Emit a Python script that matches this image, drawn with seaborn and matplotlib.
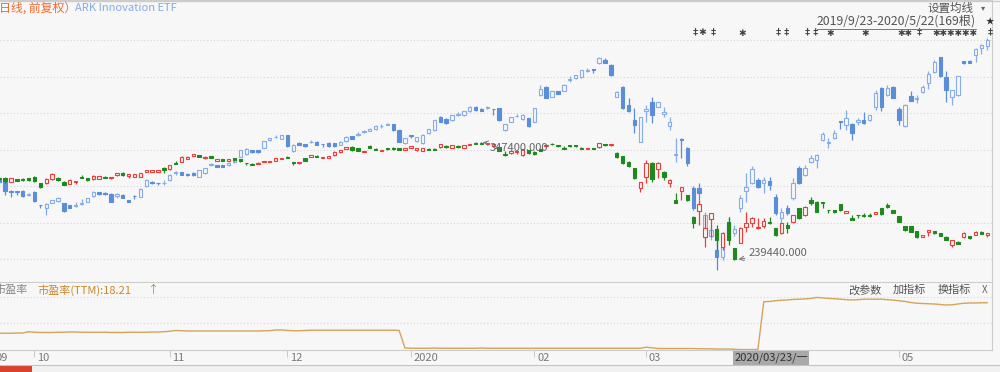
import numpy as np
import pandas as pd
import matplotlib
matplotlib.use("Agg")
import matplotlib.pyplot as plt
import matplotlib.transforms as mtransforms
from matplotlib.lines import Line2D
from matplotlib.patches import Rectangle
import seaborn as sns

# BRK.A daily candles, 2019/9/23 - 2020/5/22 (169 bars), price in thousand USD
brk_open = [314.4, 314.7, 311.2, 313.2, 313.5, 314.2, 315.6, 309.6, 309.6, 313.2,
            314.2, 311.0, 309.2, 310.5, 315.6, 314.2, 313.2, 313.5, 315.6, 314.2,
            317.2, 318.7, 316.5, 315.6, 315.6, 320.2, 319.6, 319.6, 323.3, 322.4,
            328.4, 329.3, 331.8, 334.8, 335.5, 332.3, 334.6, 330.4, 331.4, 330.3,
            332.3, 331.4, 328.6, 327.7, 327.5, 329.3, 329.5, 330.4, 332.1, 333.9,
            329.1, 327.9, 332.3, 333.9, 335.0, 333.0, 333.2, 335.5, 337.9, 341.4,
            343.1, 341.9, 338.5, 343.7, 341.4, 339.4, 342.2, 342.2, 341.9, 340.5,
            342.3, 340.1, 339.1, 341.4, 341.4, 342.8, 343.7, 342.3, 343.7, 342.3,
            344.6, 346.9, 346.6, 345.5, 343.7, 342.8, 336.8, 337.3, 337.8, 335.5,
            340.1, 338.5, 340.7, 343.7, 346.0, 344.2, 342.3, 344.2, 344.2, 342.3,
            341.1, 342.1, 342.5, 345.1, 344.2, 337.0, 334.6, 329.3, 323.3, 305.0,
            315.1, 328.4, 322.4, 320.2, 309.6, 294.3, 302.8, 298.9, 279.0, 284.5,
            260.7, 276.6, 267.8, 251.6, 274.4, 250.1, 255.2, 269.9, 273.0, 268.4,
            270.8, 274.4, 268.4, 263.8, 271.4, 274.4, 286.7, 280.6, 294.3, 292.7,
            292.7, 285.4, 285.2, 290.7, 282.7, 277.5, 280.9, 281.0, 281.0, 281.5,
            286.7, 289.7, 285.2, 279.7, 270.5, 270.5, 265.9, 260.7, 265.3, 265.9,
            263.8, 260.7, 253.1, 256.1, 260.2, 261.4, 262.3, 265.3, 262.3]
brk_close = [313.5, 311.7, 314.0, 312.0, 312.3, 312.3, 311.7, 305.9, 313.5, 318.4,
             312.6, 308.0, 312.6, 311.7, 314.2, 312.6, 316.5, 316.3, 314.2, 315.1,
             318.7, 317.2, 317.8, 317.8, 318.7, 321.8, 321.5, 321.8, 321.8, 326.3,
             327.2, 333.9, 333.9, 336.4, 333.9, 334.1, 333.2, 331.4, 330.3, 331.4,
             330.9, 330.0, 327.9, 326.3, 328.6, 330.4, 330.4, 332.7, 333.2, 332.7,
             328.2, 328.8, 330.4, 335.2, 333.9, 334.1, 334.6, 338.5, 340.1, 342.8,
             340.1, 339.1, 339.6, 342.3, 340.5, 340.5, 341.0, 341.0, 340.5, 341.6,
             343.3, 341.6, 341.6, 340.5, 340.5, 345.1, 342.8, 344.2, 342.8, 344.2,
             345.8, 345.5, 345.8, 346.4, 345.1, 339.1, 335.9, 338.7, 338.7, 340.7,
             337.0, 336.1, 339.4, 344.6, 345.1, 343.3, 341.4, 343.3, 343.3, 341.4,
             342.1, 341.1, 346.2, 344.2, 345.1, 333.4, 327.9, 325.4, 314.2, 310.5,
             327.9, 313.2, 327.9, 315.6, 312.6, 291.8, 305.9, 294.3, 273.0, 290.7,
             268.4, 282.1, 257.7, 263.8, 257.7, 240.3, 268.4, 273.0, 277.5, 269.9,
             275.1, 273.0, 262.3, 273.0, 268.4, 280.6, 277.5, 288.2, 291.3, 283.6,
             291.3, 284.9, 283.6, 285.2, 284.2, 276.0, 280.3, 280.1, 280.1, 283.6,
             281.5, 287.6, 282.7, 274.4, 266.9, 265.3, 260.2, 262.3, 266.9, 263.8,
             261.4, 257.7, 257.7, 254.0, 263.8, 259.3, 265.3, 263.2, 263.8]
brk_high = [315.3, 315.6, 314.4, 313.5, 314.0, 314.4, 316.7, 310.3, 314.0, 319.0,
            315.8, 311.7, 313.1, 311.7, 317.2, 314.4, 316.9, 316.7, 316.7, 315.3,
            319.0, 319.9, 318.1, 318.1, 319.0, 322.2, 321.8, 322.2, 324.5, 326.8,
            330.0, 334.3, 334.3, 336.8, 335.9, 334.6, 335.0, 331.8, 331.8, 331.8,
            332.7, 331.8, 328.6, 328.2, 329.1, 330.4, 330.4, 333.2, 333.2, 335.0,
            329.1, 329.1, 332.7, 335.5, 335.5, 334.1, 334.6, 338.9, 340.5, 343.1,
            343.7, 342.3, 339.6, 344.9, 341.9, 340.5, 342.3, 342.8, 342.3, 341.9,
            343.7, 341.9, 341.9, 341.9, 341.9, 345.5, 344.2, 344.6, 344.2, 344.6,
            346.0, 347.1, 347.4, 346.6, 345.3, 343.2, 338.7, 339.1, 339.1, 341.0,
            340.5, 339.1, 340.9, 345.1, 346.9, 344.6, 343.7, 344.6, 344.6, 342.8,
            342.3, 342.3, 346.4, 345.5, 345.5, 337.8, 335.0, 330.0, 324.0, 311.2,
            330.9, 329.1, 329.3, 320.8, 313.1, 300.4, 306.2, 299.3, 279.7, 294.3,
            280.6, 282.4, 271.4, 265.0, 279.0, 250.4, 269.9, 283.6, 279.0, 277.5,
            277.5, 279.0, 268.7, 273.3, 274.4, 281.0, 287.0, 288.6, 297.3, 293.4,
            292.9, 285.6, 285.4, 291.1, 284.5, 280.6, 281.0, 282.4, 282.4, 283.8,
            287.0, 291.3, 285.4, 279.9, 270.8, 270.8, 266.2, 262.5, 267.1, 266.2,
            264.1, 261.1, 258.0, 256.5, 265.3, 261.6, 265.7, 265.7, 264.1]
brk_low = [312.6, 309.9, 310.8, 311.7, 311.7, 311.7, 311.2, 305.0, 308.9, 312.6,
           312.1, 307.6, 308.9, 309.4, 314.0, 312.1, 312.9, 313.1, 314.0, 313.5,
           316.7, 316.7, 314.9, 315.3, 315.3, 319.9, 319.5, 319.5, 318.7, 322.0,
           327.0, 329.1, 331.4, 334.6, 333.6, 331.8, 332.7, 330.0, 330.0, 330.0,
           330.4, 329.5, 326.3, 325.9, 327.2, 329.1, 329.1, 330.0, 331.8, 332.3,
           325.9, 327.5, 330.0, 333.6, 333.6, 332.7, 332.7, 335.0, 337.6, 341.0,
           339.6, 338.7, 338.2, 341.9, 340.1, 339.1, 340.5, 340.5, 340.1, 340.1,
           341.9, 339.6, 338.7, 340.1, 340.1, 342.3, 342.3, 341.9, 342.3, 341.9,
           344.2, 345.1, 345.2, 345.1, 343.2, 338.7, 335.0, 336.8, 336.4, 335.0,
           336.8, 335.9, 339.1, 343.2, 344.6, 342.8, 341.0, 342.8, 342.8, 341.0,
           341.0, 341.0, 342.3, 343.7, 343.7, 332.7, 327.2, 324.9, 313.5, 301.9,
           309.6, 311.0, 314.2, 312.6, 305.9, 291.6, 294.3, 293.8, 268.4, 271.4,
           251.6, 260.7, 248.6, 248.6, 253.1, 239.44, 254.7, 265.3, 269.9, 268.0,
           268.4, 272.8, 261.8, 263.5, 263.8, 273.5, 277.2, 280.1, 289.7, 283.3,
           286.7, 282.1, 282.4, 284.7, 282.4, 275.7, 278.3, 278.7, 278.7, 281.2,
           281.0, 287.2, 282.4, 274.2, 266.4, 265.0, 259.8, 260.4, 261.4, 263.5,
           261.1, 257.4, 251.0, 253.8, 259.8, 258.9, 262.0, 262.9, 260.7]

# ARK Innovation ETF overlay, rebased onto the BRK.A price scale
arkk_open = [312.6, 310.8, 302.5, 302.5, 302.5, 298.9, 301.6, 289.7, 287.0, 292.0,
             293.4, 291.6, 289.7, 288.4, 290.7, 292.9, 298.0, 301.2, 300.7, 300.2,
             298.4, 299.3, 294.3, 298.4, 297.5, 306.7, 311.2, 310.3, 309.9, 312.6,
             319.0, 319.5, 318.5, 319.0, 315.8, 319.0, 326.8, 326.3, 326.3, 326.3,
             329.1, 334.1, 336.4, 340.1, 340.1, 342.3, 349.2, 351.9, 350.1, 353.8,
             338.7, 346.9, 345.1, 347.4, 347.8, 345.5, 346.9, 346.4, 344.6, 348.3,
             352.9, 354.2, 356.5, 357.4, 359.3, 361.6, 362.9, 363.4, 358.4, 346.4,
             353.8, 348.3, 346.4, 355.6, 358.4, 370.7, 368.4, 367.5, 372.5, 372.1,
             375.3, 379.8, 378.0, 378.5, 378.0, 378.5, 358.4, 366.1, 371.2, 368.4,
             368.9, 366.1, 390.4, 397.7, 389.0, 394.0, 394.0, 404.1, 405.5, 406.4,
             412.8, 414.2, 419.7, 422.4, 417.8, 389.0, 397.7, 381.2, 367.5, 347.8,
             375.3, 384.0, 379.8, 373.4, 361.6, 335.9, 350.1, 341.9, 305.3, 305.3,
             268.7, 261.4, 248.6, 242.1, 274.2, 264.1, 287.0, 302.5, 309.9, 312.6,
             309.9, 311.7, 297.0, 277.8, 287.0, 296.1, 323.6, 317.2, 329.1, 330.9,
             349.2, 346.9, 351.0, 366.6, 362.9, 364.3, 366.1, 367.5, 367.5, 379.4,
             397.2, 390.4, 397.7, 378.0, 361.6, 389.5, 386.3, 392.7, 401.4, 411.0,
             424.7, 406.8, 389.0, 390.4, 421.5, 421.5, 427.0, 433.4, 435.2]
arkk_close = [310.8, 302.5, 301.6, 301.6, 298.4, 300.2, 293.4, 289.3, 290.7, 294.3,
              295.7, 284.2, 287.4, 289.7, 291.6, 296.1, 301.6, 299.8, 299.8, 292.9,
              300.2, 296.1, 292.9, 298.0, 304.8, 312.6, 309.9, 309.9, 310.3, 317.6,
              319.5, 317.6, 317.2, 317.2, 321.8, 323.6, 327.2, 324.9, 324.9, 328.2,
              330.9, 340.1, 341.4, 337.8, 337.8, 348.3, 350.6, 352.4, 353.8, 343.3,
              344.6, 344.6, 343.3, 347.8, 344.6, 345.1, 343.7, 343.3, 347.8, 352.4,
              350.1, 354.7, 357.0, 359.7, 362.0, 362.0, 364.3, 358.4, 347.8, 351.0,
              353.3, 351.9, 354.2, 359.3, 367.5, 366.1, 364.8, 372.1, 373.0, 375.7,
              379.8, 376.7, 375.7, 379.0, 377.6, 367.5, 363.4, 370.2, 371.6, 372.5,
              361.6, 378.5, 396.3, 387.6, 394.0, 391.7, 399.5, 404.6, 408.7, 413.3,
              413.3, 413.7, 423.8, 420.1, 408.7, 393.1, 378.5, 375.3, 362.9, 370.2,
              378.0, 372.1, 384.0, 374.8, 365.7, 336.4, 349.2, 328.2, 287.0, 300.7,
              280.6, 266.9, 242.1, 253.1, 263.2, 267.8, 296.1, 306.2, 322.7, 306.2,
              312.6, 308.0, 282.4, 283.3, 282.4, 309.9, 309.9, 323.6, 332.7, 335.5,
              354.7, 347.4, 355.6, 365.7, 369.8, 355.6, 367.9, 364.8, 372.1, 391.8,
              379.4, 397.2, 387.6, 367.5, 381.2, 385.3, 387.2, 397.7, 410.0, 420.6,
              407.8, 394.9, 394.9, 407.8, 419.7, 420.1, 432.9, 436.1, 440.7]
arkk_high = [313.5, 314.4, 303.5, 302.5, 303.5, 300.7, 302.5, 289.7, 291.6, 294.7,
             297.5, 292.0, 290.2, 292.5, 295.2, 296.6, 302.1, 301.6, 301.2, 300.7,
             300.7, 299.8, 294.7, 298.9, 305.3, 313.1, 311.7, 310.3, 312.6, 318.1,
             321.3, 319.9, 319.0, 319.5, 322.2, 324.0, 328.6, 326.8, 326.8, 329.1,
             332.7, 340.5, 341.9, 340.5, 340.5, 348.7, 351.0, 353.8, 354.2, 354.2,
             345.1, 347.4, 345.5, 349.2, 348.3, 345.5, 347.4, 346.9, 348.3, 352.9,
             353.3, 356.1, 358.4, 360.2, 362.5, 363.4, 364.8, 363.8, 358.8, 351.5,
             353.8, 352.4, 354.7, 359.7, 367.9, 371.2, 368.9, 372.5, 374.8, 376.2,
             380.3, 380.3, 378.5, 380.3, 378.0, 378.9, 363.8, 370.7, 373.0, 373.0,
             369.3, 378.9, 399.5, 398.6, 394.5, 394.5, 400.0, 407.8, 409.1, 413.7,
             415.1, 414.2, 425.1, 424.2, 418.7, 393.6, 398.2, 387.6, 378.5, 370.7,
             381.2, 388.6, 384.4, 379.4, 370.2, 351.0, 351.0, 342.8, 307.1, 309.9,
             283.3, 271.4, 260.4, 259.5, 278.7, 271.4, 298.9, 319.0, 325.4, 314.4,
             315.3, 315.3, 299.8, 287.0, 289.7, 314.4, 325.4, 326.3, 335.5, 336.4,
             356.5, 351.0, 358.4, 367.0, 376.7, 364.8, 369.3, 374.4, 372.5, 394.9,
             397.7, 399.5, 398.2, 379.4, 381.7, 393.6, 390.4, 399.5, 411.9, 422.4,
             425.1, 411.9, 395.4, 408.2, 421.9, 422.4, 433.4, 436.6, 442.5]
arkk_low = [308.9, 298.9, 297.0, 298.9, 297.0, 298.0, 292.5, 287.0, 280.6, 291.6,
            292.9, 283.8, 287.0, 287.9, 289.7, 292.5, 297.5, 299.3, 299.3, 292.5,
            296.1, 295.7, 292.5, 295.2, 297.0, 306.2, 309.4, 307.6, 307.6, 312.1,
            317.2, 317.2, 316.7, 316.7, 315.3, 318.5, 325.4, 324.5, 324.5, 325.4,
            328.2, 333.6, 335.5, 337.3, 337.3, 341.9, 348.7, 351.0, 349.7, 342.8,
            338.2, 344.2, 342.8, 346.4, 344.2, 343.2, 343.2, 342.8, 344.2, 347.8,
            349.7, 352.9, 355.6, 357.0, 358.8, 360.6, 362.5, 357.9, 347.4, 346.0,
            351.0, 347.8, 346.0, 355.1, 357.9, 365.7, 364.3, 367.0, 371.2, 371.6,
            374.8, 376.2, 375.3, 377.6, 372.1, 367.0, 357.4, 365.7, 370.2, 367.5,
            361.1, 365.7, 389.9, 387.2, 388.6, 391.3, 393.6, 402.3, 405.0, 405.9,
            411.4, 410.5, 419.2, 419.7, 408.2, 388.6, 378.0, 374.8, 355.6, 347.4,
            365.7, 364.8, 379.4, 370.2, 358.4, 329.1, 332.7, 325.4, 285.2, 294.3,
            266.9, 257.7, 230.3, 239.4, 255.9, 261.4, 283.3, 292.5, 308.9, 305.3,
            300.7, 303.5, 280.6, 270.5, 280.6, 294.3, 308.9, 316.3, 328.2, 323.6,
            348.3, 341.9, 350.1, 359.3, 358.4, 349.2, 362.9, 364.3, 366.6, 376.7,
            375.3, 389.9, 387.2, 362.9, 361.1, 384.9, 383.5, 392.2, 396.3, 410.5,
            407.3, 384.4, 381.2, 389.9, 419.2, 419.7, 421.0, 428.3, 431.6]

# 市盈率(TTM) per bar
pe_ttm = [24.5, 24.5, 24.5, 24.6, 24.6, 25.1,
          24.9, 24.8, 24.8, 24.8, 24.9, 24.9, 25.0, 25.0, 24.9, 24.9, 24.9, 24.9,
          24.9, 24.8, 24.8, 24.8, 24.9, 24.9, 24.9, 24.9, 25.0, 25.0, 25.1, 25.3,
          25.6, 25.5, 25.4, 25.4, 25.4, 25.4, 25.4, 25.4, 25.4, 25.4, 25.4, 25.4,
          25.4, 25.4, 25.4, 25.5, 25.5, 25.8, 25.8, 25.6,
          25.5, 25.5, 25.6, 25.7, 25.7, 25.7, 25.7, 25.7, 25.7, 25.7, 25.7, 25.7,
          25.7, 25.7, 25.7, 25.7, 25.7, 25.7, 25.6,
          18.7, 18.6, 18.6, 18.6, 18.6, 18.7, 18.6, 18.6, 18.6, 18.6, 18.6, 18.6,
          18.6, 18.7, 18.6, 18.6, 18.6, 18.6, 18.6, 18.6, 18.6, 18.6, 18.6, 18.6,
          18.6, 18.6, 18.6, 18.6, 18.6, 18.6, 18.6, 18.6, 18.6, 18.6, 18.6, 18.6,
          18.6, 18.6, 18.6, 18.6, 18.6,
          19.0, 18.8, 18.5, 18.5, 18.5, 18.5, 18.5, 18.5, 18.5, 18.4, 18.4, 18.4,
          18.3, 18.3, 18.3, 18.21, 18.1, 18.1, 18.1, 18.1,
          36.9, 37.0, 37.3, 37.5, 37.6, 37.8, 37.9, 38.0, 38.2, 38.6, 38.4, 38.2,
          38.1, 37.9, 37.7, 37.6, 37.7, 37.9, 37.9, 37.9, 37.9, 37.7, 37.5, 37.3,
          37.0, 36.6, 36.3, 36.2, 36.1, 36.0, 35.8, 35.6, 35.7, 36.0, 36.3, 36.4,
          36.4, 36.5, 36.5]

month_ticks = [6, 29, 49, 70, 91, 110, 132, 153]
month_labels = ["10", "11", "12", "2020", "02", "03", "", "05"]
cursor_bar = 125
cursor_label = "2020/03/23/一"
# event flags above the candles: first bar of each run and its marks
event_bars = [118, 121, 126, 132, 137, 141, 147, 153, 156, 159, 168]
event_marks = ["‡✱", "‡", "✱", "‡‡", "‡‡", "✱", "✱", "✱✱", "‡", "✱✱✱✱✱✱", "‡"]
main_grid = [240.3, 273.7, 307.1, 340.5, 373.9, 407.3, 440.7]
pe_grid = [28.5, 38.75]

for arr in (brk_open, brk_close, brk_high, brk_low, arkk_open, arkk_close,
            arkk_high, arkk_low, pe_ttm):
    assert len(arr) == 169, len(arr)

BG = "#f7f7f7"
LINE = "#cccccc"


def make_frame(o, c, h, l):
    df = pd.DataFrame({"open": o, "close": c, "high": h, "low": l})
    df["bar"] = np.arange(len(df))
    return df


def draw_candles(ax, df, up_col, down_col, z):
    x = df["bar"].to_numpy()
    up = (df["close"] >= df["open"]).to_numpy()
    lo = np.minimum(df["open"], df["close"]).to_numpy()
    hgt = np.maximum(np.abs(df["close"] - df["open"]).to_numpy(), 0.4)
    cols = np.where(up, up_col, down_col)
    ax.vlines(x, df["low"], df["high"], colors=cols, lw=0.9, zorder=z)
    ax.bar(x[up], hgt[up], bottom=lo[up], width=0.58, facecolor=BG,
           edgecolor=up_col, lw=0.8, zorder=z + 0.5)
    ax.bar(x[~up], hgt[~up], bottom=lo[~up], width=0.58, facecolor=down_col,
           edgecolor=down_col, lw=0.8, zorder=z + 0.5)


brk = make_frame(brk_open, brk_close, brk_high, brk_low)
arkk = make_frame(arkk_open, arkk_close, arkk_high, arkk_low)
pe = pd.DataFrame({"bar": np.arange(len(pe_ttm)), "pe": pe_ttm})

sns.set_theme(style="white")
plt.rcParams["font.family"] = ["Noto Sans CJK SC", "DejaVu Sans"]
plt.rcParams["axes.unicode_minus"] = False

W, H = 1000, 372
fig = plt.figure(figsize=(W / 100, H / 100), dpi=100, facecolor=BG)
ax = fig.add_axes([0, 1 - 282 / H, 992 / W, 282 / H], facecolor=BG)
ax2 = fig.add_axes([0, 1 - 350 / H, 992 / W, 67 / H], facecolor=BG)

x_lim = (0.14, 168.8)

# ----- main price panel -----
for g in main_grid:
    ax.axhline(g, color="#d6d6d6", lw=0.8, ls=(0, (1, 2)), zorder=0)
draw_candles(ax, arkk, "#86acea", "#5b8ed9", 2)
draw_candles(ax, brk, "#ee3b3b", "#1e8a1e", 3)
ax.set_xlim(*x_lim)
ax.set_ylim(219.3, 477.3)
ax.set_xticks([])
ax.set_yticks([])
ax.spines["left"].set_visible(False)
for s in ("top", "bottom", "right"):
    ax.spines[s].set_color(LINE)
    ax.spines[s].set_linewidth(0.8)

i_hi = int(brk["high"].idxmax())
i_lo = int(brk["low"].idxmin())
ax.annotate(f"{brk['high'][i_hi] * 1000:.3f}", xy=(i_hi, brk["high"][i_hi]),
            xytext=(6, -4.5), textcoords="offset points", fontsize=8,
            color="#666666", ha="left", va="center", zorder=6,
            arrowprops=dict(arrowstyle="->", color="#777777", lw=0.7,
                            shrinkA=0, shrinkB=1))
ax.annotate(f"{brk['low'][i_lo] * 1000:.3f}", xy=(i_lo, brk["low"][i_lo]),
            xytext=(10, 5), textcoords="offset points", fontsize=8,
            color="#666666", ha="left", va="center", zorder=6,
            arrowprops=dict(arrowstyle="->", color="#777777", lw=0.7,
                            shrinkA=0, shrinkB=3))

mark_tr = mtransforms.blended_transform_factory(ax.transData, ax.transAxes)
for b, m in zip(event_bars, event_marks):
    ax.text(b - 0.35, 1 - 33 / 282, m, transform=mark_tr, fontsize=6.5,
            color="#444444", ha="left", va="center", fontweight="bold")

# ----- 市盈率 panel -----
for g in pe_grid:
    ax2.axhline(g, color="#d6d6d6", lw=0.8, ls=(0, (1, 2)), zorder=0)
sns.lineplot(data=pe, x="bar", y="pe", ax=ax2, color="#d6a35a", lw=1.0)
ax2.set_xlim(*x_lim)
ax2.set_ylim(17.92, 44.26)
ax2.set_yticks([])
ax2.set_xlabel("")
ax2.set_ylabel("")
ax2.spines["left"].set_visible(False)
ax2.spines["top"].set_visible(False)
for s in ("bottom", "right"):
    ax2.spines[s].set_color(LINE)
    ax2.spines[s].set_linewidth(0.8)
ax2.set_xticks(month_ticks)
ax2.set_xticklabels([])
ax2.tick_params(axis="x", direction="out", length=5, width=0.7,
                color="#c8c8c8", bottom=True)

lab_tr = mtransforms.blended_transform_factory(ax2.transData, ax2.transAxes)
for b, lab in zip([-1] + month_ticks, ["09"] + month_labels):
    if lab:
        ax2.text(b + 0.45, -8 / 67, lab, transform=lab_tr, fontsize=8,
                 color="#777777", ha="left", va="center", clip_on=False)
ax2.text(cursor_bar, -8 / 67, cursor_label, transform=lab_tr, fontsize=8,
         color="#333333", ha="left", va="center", clip_on=False, zorder=10,
         bbox=dict(boxstyle="square,pad=0.12", fc="#a9a9a9", ec="none"))


# ----- header texts -----
def fy(py):
    return 1 - py / H


fig.text(-0.001, fy(8), "日线, 前复权）", fontsize=8.6, color="#f06a32", va="center")
fig.text(0.075, fy(8), "ARK Innovation ETF", fontsize=8, color="#84aae8", va="center")
fig.text(0.928, fy(8), "设置均线", fontsize=8.3, color="#555555", va="center")
fig.text(0.981, fy(8), "▾", fontsize=6, color="#666666", va="center")
rng = fig.text(0.817, fy(21.5), "2019/9/23-2020/5/22(169根)", fontsize=8.8,
               color="#555555", va="center")
fig.text(0.986, fy(21.5), "★", fontsize=6, color="#333333", va="center")

fig.text(-0.006, fy(290), "市盈率", fontsize=8, color="#888888", va="center")
fig.text(0.037, fy(290), "市盈率(TTM):18.21", fontsize=8, color="#c8892e", va="center")
fig.text(0.147, fy(290), "↑", fontsize=8, color="#c8892e", va="center")
fig.text(0.848, fy(290), "改参数", fontsize=8, color="#555555", va="center")
fig.text(0.893, fy(290), "加指标", fontsize=8, color="#555555", va="center")
fig.text(0.938, fy(290), "换指标", fontsize=8, color="#555555", va="center")
fig.text(0.982, fy(290), "X", fontsize=7, color="#666666", va="center")

# top border line
fig.add_artist(Line2D([0, 1], [fy(0.8), fy(0.8)], color=LINE, lw=1.0))

# bottom tab strip (only its top edge is in view)
fig.add_artist(Rectangle((0, 0), 1, fy(365), transform=fig.transFigure,
                         facecolor="#f1f1f1", edgecolor="none"))
fig.add_artist(Line2D([0, 1], [fy(365), fy(365)], color="#c4c4c4", lw=0.8))
fig.add_artist(Rectangle((0, 0), 0.032, fy(365), transform=fig.transFigure,
                         facecolor="#d9432e", edgecolor="none"))

# underline the date range
fig.canvas.draw()
bb = rng.get_window_extent().transformed(fig.transFigure.inverted())
fig.add_artist(Line2D([bb.x0, bb.x1], [fy(28.5), fy(28.5)], color="#777777", lw=0.7))

fig.savefig("out.png", dpi=100, facecolor=BG)
